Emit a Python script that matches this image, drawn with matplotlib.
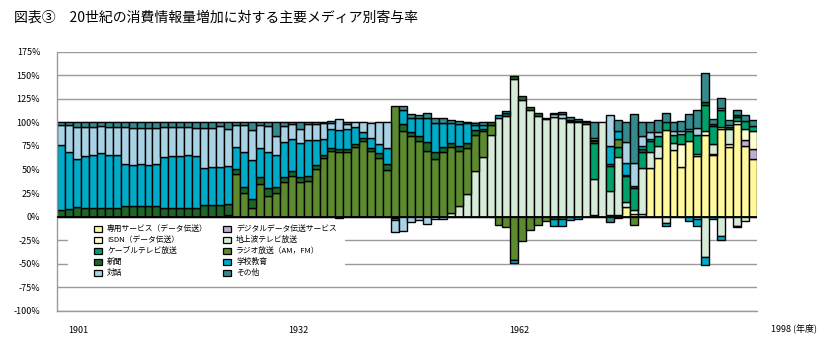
import matplotlib
matplotlib.use("Agg")
import matplotlib.pyplot as plt
from matplotlib.patches import Rectangle
import numpy as np

plt.rcParams["font.family"] = ["Noto Sans CJK JP", "DejaVu Sans"]

TITLE = "図表③　20世紀の消費情報量増加に対する主要メディア別寄与率"

# series, bottom of the stack first
LABELS = [
    "専用サービス（データ伝送）", "デジタルデータ伝送サービス",
    "ISDN（データ伝送）", "地上波テレビ放送",
    "ケーブルテレビ放送", "ラジオ放送（AM，FM）",
    "新聞", "学校教育",
    "対話", "その他",
]
COLORS = [
    "#fff99c", "#bcaed6", "#ffffd2", "#d6ebd8", "#00a06a",
    "#5b8a2f", "#1e6628", "#00abc9", "#a9d2e4", "#358a8e",
]

senyo = [
    0, 0, 0, 0, 0, 0, 0, 0, 0, 0,
    0, 0, 0, 0, 0, 0, 0, 0, 0, 0,
    0, 0, 0, 0, 0, 0, 0, 0, 0, 0,
    0, 0, 0, 0, 0, 0, 0, 0, 0, 0,
    0, 0, 0, 0, 0, 0, 0, 0, 0, 0,
    0, 0, 0, 0, 0, 0, 0, 0, 0, 0,
    0, 0, 0, 0, 0, 0, 0, 2, 0, 2,
    2, 10, 3, 3, 52, 62, 92, 71, 53, 80,
    64, 87, 65, 93, 74, 98, 75, 61,
]
digital = [0] * 86 + [6, 11]
isdn = [0] * 70 + [
    0, 0, 4, 0, 0, 0, 0, 0, 24, 0,
    2, 3.5, 1.5, 2, 3, 3, 12, 19,
]
terrestrial_tv = [0] * 40 + [
    0, 0, 0, 0, 0, 0, 0, 0, 0, 4,
    11, 24.5, 48, 63.5, 87, 105, 107, 146, 124, 113,
    107, 103, 106, 105, 100, 100, 98, 38, 100, 25,
    61, 6, 0, 49, 16, 13, -7, 7, 0, 0,
    -2.5, -43, 10, -21, 16, -9.5, -5, 0,
]
cable_tv = [0] * 60 + [
    0, 0, 0, 0, 0, 0, 0, 38, 0, 27,
    10.6, 26.6, 23, 17, 12, 10.6, 8.5, 9, 11, 10.6,
    21, 28, 20, 18, 0, 5, 8, 5,
]
radio = [
    0, 0, 0, 0, 0, 0, 0, 0, 0, 0,
    0, 0, 0, 0, 0, 0, 0, 0, 0, 0,
    0, 2, 45, 25, 9, 35, 22, 25, 37, 43,
    37, 38, 51, 62, 70, 69, 69, 74, 80, 69.5,
    62, 49, 117, 91, 85, 80, 70, 61, 68, 70,
    58.5, 48.6, 39, 27, 10, -9, -11, -46, -26, -14,
    -8.5, -5, -2, -2, 1, 0, 2, 2, 0, 2,
    9, 0, -8.5, 0, 0, 0, 0, 0, 0, 0,
    0, 0, 0, 0, 0, -2, 0, 0,
]
newspaper = [
    7, 8, 10, 9, 9, 9, 9, 9, 11, 11,
    11, 11, 11, 9, 9, 9, 9, 9, 12, 12,
    12, 11, 6, 6, 10, 7, 8, 6, 5, 5,
    5, 5, 4, 3, 3, 2.5, 2.5, 2.5, 3.5, 3.5,
    5, 6.5, -1, 7, 5, 5, 9, 7, 6, 4,
    5.3, 4.6, 5, 2.5, 3, 0, 3, 3.5, 3.5, 3.5,
    3, 0, 0, 0, 0, 0, 1, 0, 0, 0,
    -1, 2, 2, 3, 0, 0, 0, 0, 0, 0,
    0, 3.5, 2, 0, 2, 2, 0, 0,
]
school = [
    69, 61, 51, 55, 56, 58, 56, 56, 45, 44,
    45, 44, 45, 54, 55, 55, 56, 55, 40, 41,
    41, 41, 23, 37, 41, 31, 39, 34, 37, 34,
    36, 38, 26, 17, 19.5, 20.5, 21, 18, 6, 10.5,
    10, 17.5, -3, 15, 15, 19, 26, 31, 25, 21,
    23, 21, 4.6, 4.6, 0, 2.8, 2, -2.8, 0, 0,
    0, 0, -7.4, -7.4, -4, -2.5, 0, 1.5, 0, 18.8,
    7.8, 12.4, 0, 2.8, 1.8, 0, -2.8, 0, 0, -5,
    -7.8, -8, -3, -3.5, 0, 0, 0, 0,
]
dialogue = [
    21, 28, 34, 31, 30, 29, 30, 30, 39, 39,
    38, 39, 38, 32, 31, 31, 30, 30, 42, 41,
    43, 39, 23, 29, 32, 24, 27, 20, 17, 16,
    15, 17, 17, 17, 7, 11, 6, 6, 10.5, 16,
    23, 27, -12, -15, -6, -4, -8, -3, -2, 0,
    0, 0, 0, 0, 0, 0, 0, 0, 0, 0,
    0, 1.8, 2.5, 3.5, 1.8, 1, 0, 1.8, 0, 32.6,
    0, 22, 25, 11, 8, 4.6, 0, 3.5, 2.5, 2.5,
    7, 0, 0, 1.8, 2, 0, 0, 0,
]
other = [
    3, 3, 5, 5, 5, 4, 5, 5, 5, 6,
    6, 6, 6, 5, 5, 5, 5, 6, 6, 6,
    4, 7, 3, 3, 8, 3, 4, 15, 4, 2,
    7, 2, 2, 1, 1.5, -1, 2, 0, 0, 0,
    0, 0, 0, 4, 4, 4, 5, 6, 5, 3.5,
    3.5, 2, 3, 2.5, 0, 0, 0, 0, 0, 0,
    0, 0, 1.8, 2, 2.5, 2.5, 0, 16.7, 0, -5.7,
    11.7, 21.6, 52, 15, 11, 11.7, 9, 10, 11, 16,
    19.5, 30, 4.6, 10.6, 5, 5, 6.4, 6,
]

SERIES = [senyo, digital, isdn, terrestrial_tv, cable_tv,
          radio, newspaper, school, dialogue, other]
YTICKS = [175, 150, 125, 100, 75, 50, 25, 0, -25, -50, -75, -100]
XTICK_POS = [2.2, 29.8, 57.6]
XTICK_LABELS = ["1901", "1932", "1962"]
LAST_LABEL = "1998 (年度)"

W, H = 830, 341


def fx(px):
    return px / W


def fy(py):
    return 1 - py / H


fig = plt.figure(figsize=(W / 100, H / 100), dpi=100)
ax = fig.add_axes([fx(57), fy(311), fx(757) - fx(57), fy(51.5) - fy(311)])

n = len(senyo)
x = np.arange(n)
pos_base = np.zeros(n)
neg_base = np.zeros(n)
for values, color in zip(SERIES, COLORS):
    v = np.asarray(values, dtype=float)
    up = v > 0
    down = v < 0
    ax.bar(x[up], v[up], 1.0, bottom=pos_base[up], color=color,
           edgecolor="black", linewidth=1.0, zorder=2)
    ax.bar(x[down], v[down], 1.0, bottom=neg_base[down], color=color,
           edgecolor="black", linewidth=1.0, zorder=2)
    pos_base[up] += v[up]
    neg_base[down] += v[down]

ax.axhline(0, color="black", linewidth=1.3, zorder=3)
ax.set_xlim(-0.5, n - 0.5)
ax.set_ylim(-100, 175)
ax.set_yticks(YTICKS, [f"{v}%" for v in YTICKS])
ax.set_xticks(XTICK_POS, XTICK_LABELS)
ax.tick_params(axis="both", length=0, labelsize=6.5, colors="black")
ax.tick_params(axis="y", pad=12)
ax.tick_params(axis="x", pad=11)
ax.yaxis.grid(True, color="#9a9a9a", linewidth=1.0, zorder=0)
ax.set_axisbelow(True)
for side in ["top", "right"]:
    ax.spines[side].set_visible(False)
for side in ["left", "bottom"]:
    ax.spines[side].set_color("#9a9a9a")
    ax.spines[side].set_linewidth(1.0)

fig.text(fx(771), fy(328), LAST_LABEL, fontsize=6.5, ha="left", va="center")
fig.text(fx(14), fy(18), TITLE, fontsize=10, ha="left", va="center")

# legend, drawn by hand on a white card that hides the grid lines
fig.patches.append(Rectangle((fx(68), fy(283)), fx(345) - fx(68), fy(221) - fy(283),
                             transform=fig.transFigure, facecolor="white",
                             edgecolor="none", zorder=1))
cols = [94, 223]
rows = [229, 240, 251, 262, 273]
for i, (label, color) in enumerate(zip(LABELS, COLORS)):
    cx = cols[i % 2]
    cy = rows[i // 2]
    fig.patches.append(Rectangle((fx(cx), fy(cy + 3)), fx(8), 6 / H,
                                 transform=fig.transFigure, facecolor=color,
                                 edgecolor="black", linewidth=0.9, zorder=2))
    fig.text(fx(cx + 13), fy(cy), label, fontsize=5.6, ha="left", va="center")

fig.savefig("out.png", dpi=100)
